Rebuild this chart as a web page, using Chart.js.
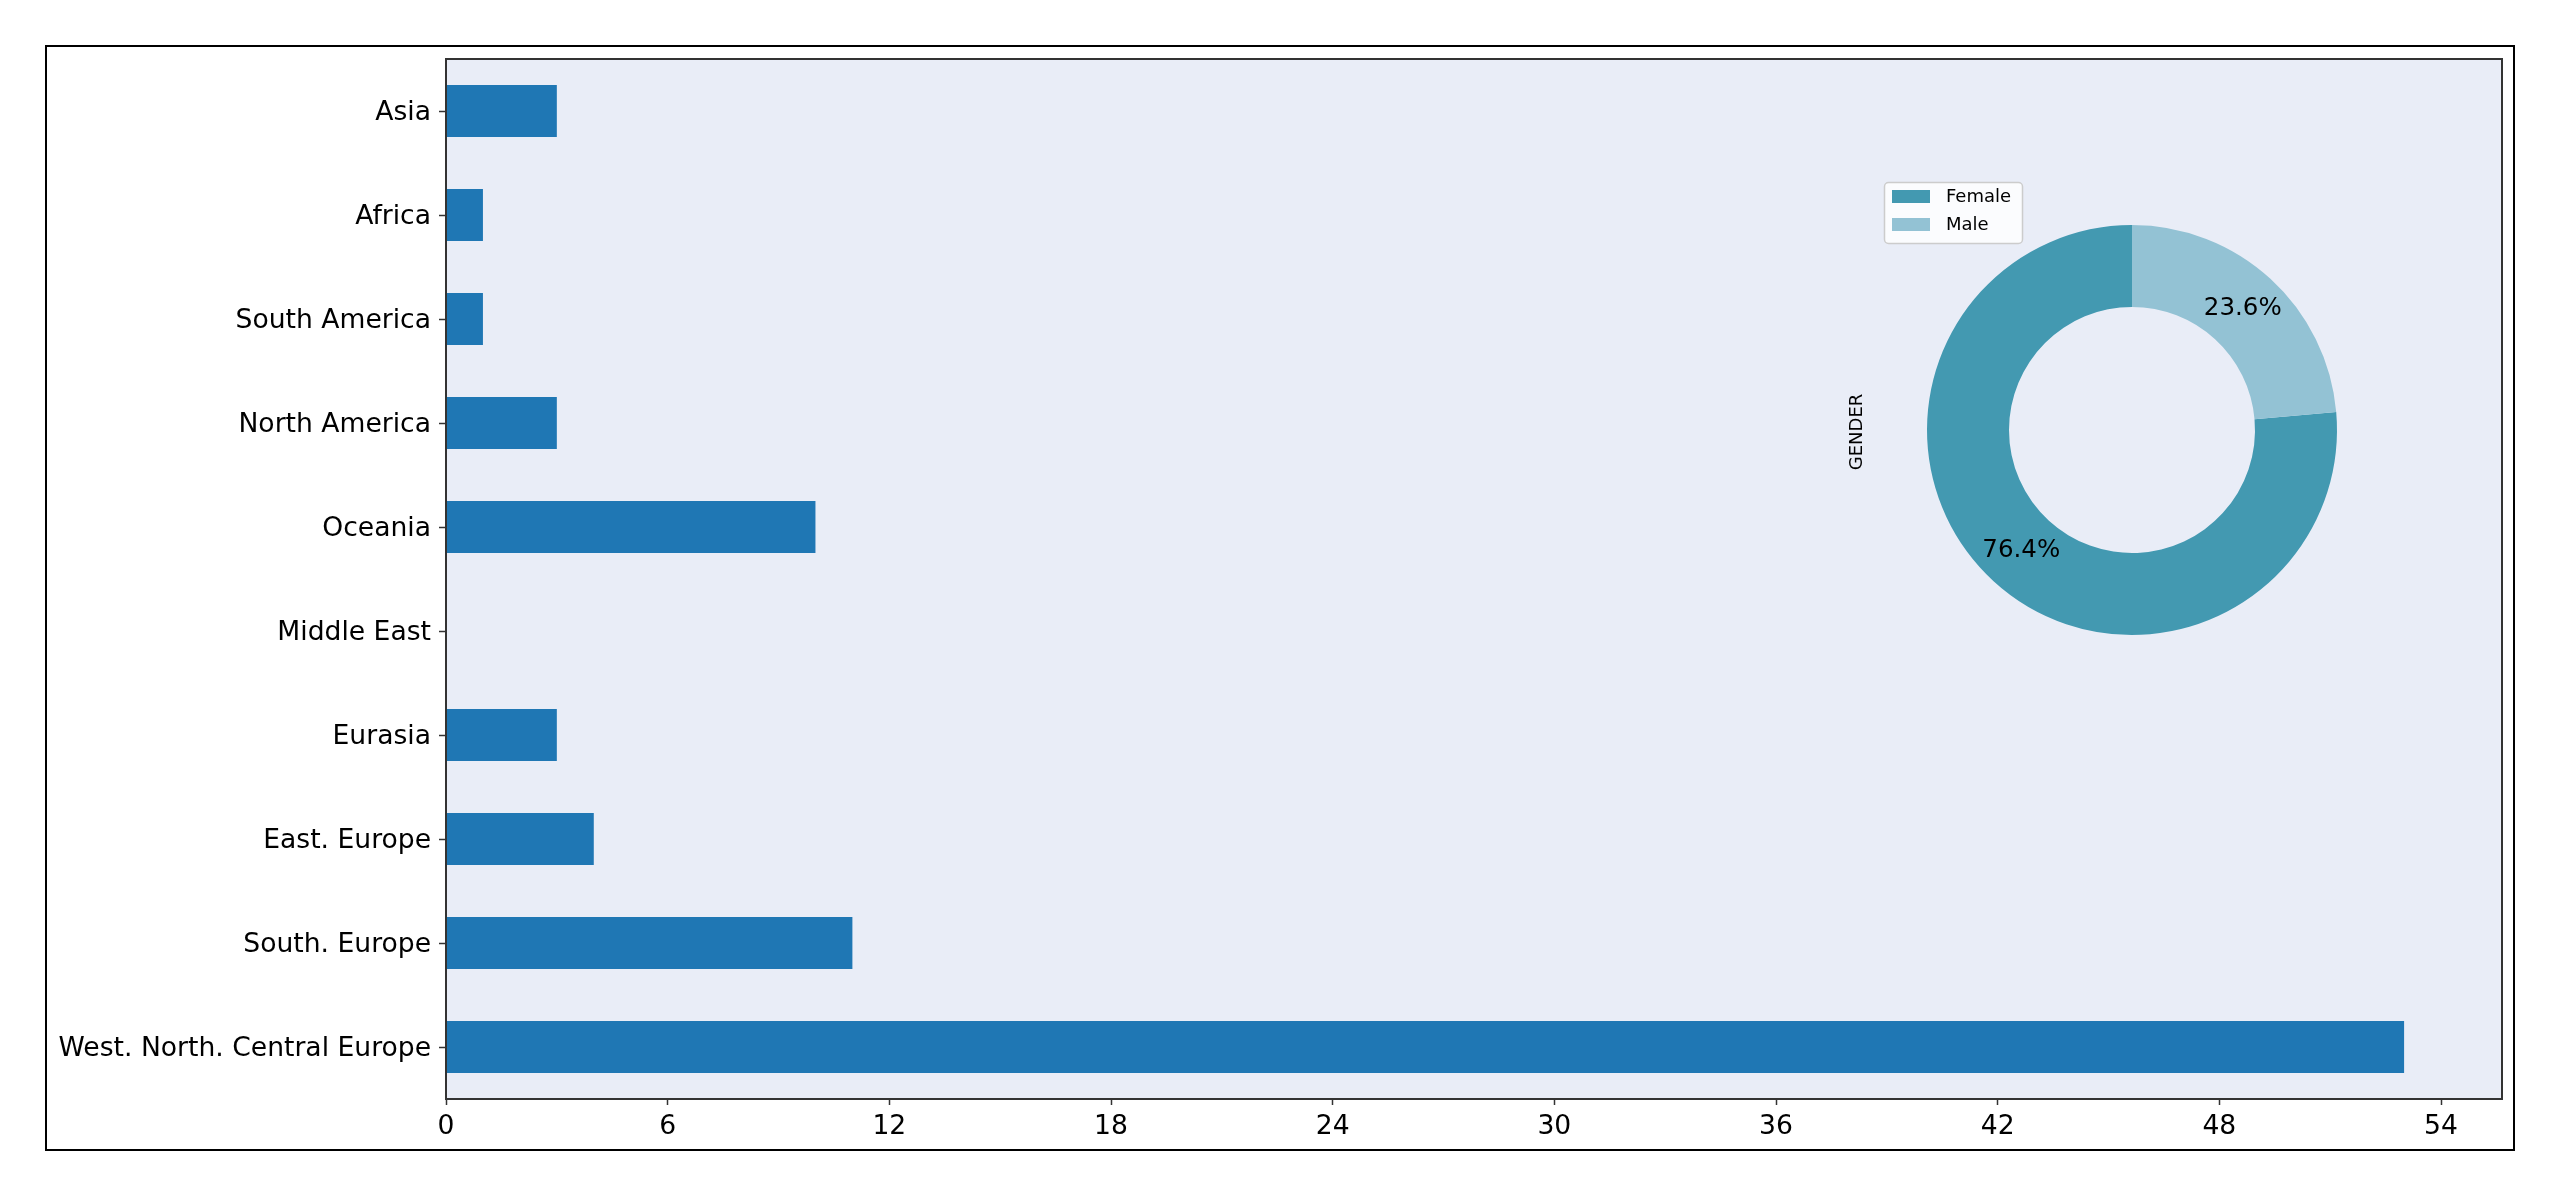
<!DOCTYPE html>
<html>
<head>
<meta charset="utf-8">
<script src="https://cdn.jsdelivr.net/npm/chart.js@4.4.0/dist/chart.umd.min.js"></script>
<style>
html,body{margin:0;padding:0;background:#fff;}
#wrap{position:relative;width:2560px;height:1197px;}
#barChart{position:absolute;left:0;top:0;}
#pieChart{position:absolute;left:1830px;top:160px;}
</style>
</head>
<body>
<div id="wrap">
  <canvas id="barChart" width="2560" height="1197"></canvas>
  <canvas id="pieChart" width="610" height="540"></canvas>
</div>
<script>
// ---- data ----
var regions = ['Asia','Africa','South America','North America','Oceania','Middle East','Eurasia','East. Europe','South. Europe','West. North. Central Europe'];
var regionCounts = [3,1,1,3,10,0,3,4,11,53];
var xTicks = [0,6,12,18,24,30,36,42,48,54];

var genderLabels = ['Female','Male'];
var genderShare = [76.4,23.6];
var genderColors = ['#4399b1','#93c2d4'];
var genderTitle = 'GENDER';

var FONT = '"DejaVu Sans", sans-serif';
var AXIS = '#333333';

// ---- bar chart (regions) ----
var barFrame = {
  id:'barFrame',
  beforeDraw:function(c){
    var a=c.chartArea, ctx=c.ctx;
    ctx.save();
    ctx.fillStyle='#e9edf7';
    ctx.fillRect(a.left,a.top,a.right-a.left,a.bottom-a.top);
    // figure frame
    ctx.strokeStyle='#000';
    ctx.lineWidth=2;
    ctx.strokeRect(46,46,2468,1104);
    ctx.restore();
  },
  afterDatasetsDraw:function(c){
    var a=c.chartArea, ctx=c.ctx;
    ctx.save();
    ctx.strokeStyle=AXIS;
    ctx.lineWidth=2;
    ctx.strokeRect(a.left,a.top,a.right-a.left,a.bottom-a.top);
    ctx.restore();
  }
};

var xMax = Math.max.apply(null, regionCounts)*1.05;

new Chart(document.getElementById('barChart'),{
  type:'bar',
  data:{
    labels:regions,
    datasets:[{data:regionCounts,backgroundColor:'#1f77b4',borderWidth:0,barPercentage:0.5,categoryPercentage:1}]
  },
  options:{
    indexAxis:'y',
    responsive:false,maintainAspectRatio:false,animation:false,devicePixelRatio:1,
    layout:{padding:{left:0,top:59,right:58,bottom:0}},
    plugins:{legend:{display:false},tooltip:{enabled:false}},
    scales:{
      x:{
        min:0,max:xMax,
        afterFit:function(s){s.height=98;},
        afterBuildTicks:function(s){s.ticks=xTicks.map(function(v){return {value:v};});},
        grid:{drawOnChartArea:false,drawTicks:true,tickLength:6,tickColor:AXIS,tickWidth:1.5},
        border:{display:true,color:AXIS,width:2},
        ticks:{color:'#000',font:{family:FONT,size:26.6},padding:6,maxRotation:0}
      },
      y:{
        afterFit:function(s){s.width=446;},
        grid:{offset:false,drawOnChartArea:false,drawTicks:true,tickLength:7,tickColor:AXIS,tickWidth:1.5},
        border:{display:true,color:AXIS,width:2},
        ticks:{color:'#000',font:{family:FONT,size:26.6},padding:8,labelOffset:2}
      }
    }
  },
  plugins:[barFrame]
});

// ---- doughnut (gender) ----
var pieExtras = {
  id:'pieExtras',
  afterDraw:function(c){
    var ctx=c.ctx, meta=c.getDatasetMeta(0);
    ctx.save();
    // percent labels
    ctx.fillStyle='#000';
    ctx.font='24.5px '+FONT;
    ctx.textAlign='center';ctx.textBaseline='middle';
    meta.data.forEach(function(arc,i){
      var p=arc.tooltipPosition();
      ctx.fillText(genderShare[i].toFixed(1)+'%',p.x,p.y);
    });
    // legend box
    ctx.fillStyle='rgba(255,255,255,0.8)';
    ctx.strokeStyle='#cccccc';
    ctx.lineWidth=1.5;
    ctx.beginPath();
    if(ctx.roundRect) ctx.roundRect(54.5,22.5,138,61,4); else ctx.rect(54.5,22.5,138,61);
    ctx.fill();ctx.stroke();
    ctx.font='18px '+FONT;
    ctx.textAlign='left';
    genderLabels.forEach(function(lbl,i){
      var cy=37+i*28;
      ctx.fillStyle=genderColors[i];
      ctx.fillRect(62,cy-7,38,13);
      ctx.fillStyle='#000';
      ctx.fillText(lbl,116,cy);
    });
    // y label
    ctx.translate(27,272);
    ctx.rotate(-Math.PI/2);
    ctx.textAlign='center';
    ctx.font='18px '+FONT;
    ctx.fillText(genderTitle,0,0);
    ctx.restore();
  }
};

var shareTotal = genderShare.reduce(function(s,v){return s+v;},0);

new Chart(document.getElementById('pieChart'),{
  type:'doughnut',
  data:{
    labels:genderLabels,
    datasets:[{data:genderShare,backgroundColor:genderColors,borderWidth:0}]
  },
  options:{
    responsive:false,maintainAspectRatio:false,animation:false,devicePixelRatio:1,
    cutout:'60%',
    rotation:genderShare[1]/shareTotal*360,
    layout:{padding:{left:97,right:103,top:65,bottom:65}},
    plugins:{legend:{display:false},tooltip:{enabled:false}}
  },
  plugins:[pieExtras]
});
</script>
</body>
</html>
